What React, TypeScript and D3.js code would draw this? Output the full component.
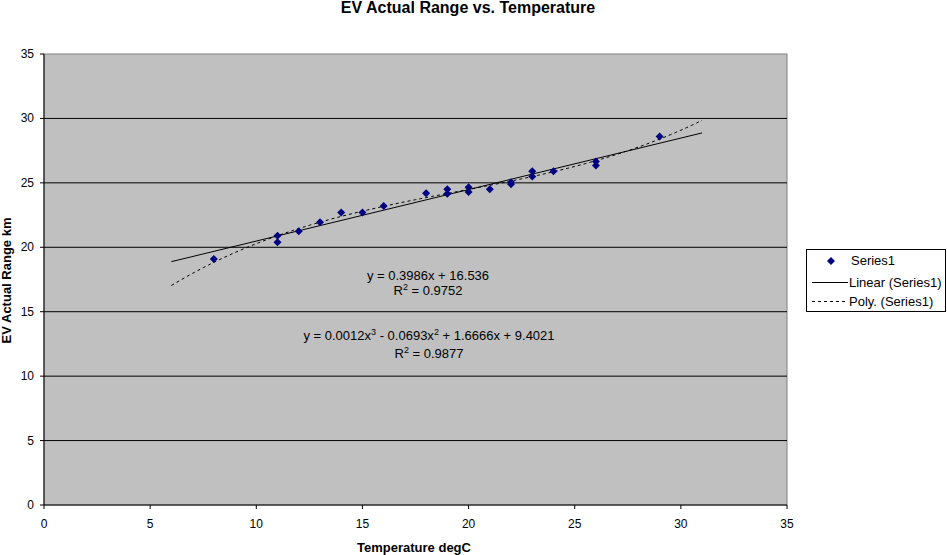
import * as d3 from "d3";
import React from "react";

const temps = [8, 11, 11, 12, 13, 14, 15, 16, 18, 19, 19, 20, 20, 21, 22, 22, 23, 23, 24, 26, 26, 29];
const ranges = [19.1, 20.9, 20.4, 21.25, 21.95, 22.7, 22.7, 23.2, 24.2, 24.5, 24.15, 24.65, 24.3, 24.5, 25.05, 24.9, 25.9, 25.5, 25.9, 26.65, 26.35, 28.6];

// trendline labels as printed on the chart
const linearLabel = "y = 0.3986x + 16.536";
const linearR2 = "0.9752";
const polyR2 = "0.9877";
const trendDomain = [6, 31];

const xTicks = [0, 5, 10, 15, 20, 25, 30, 35];
const yTicks = [0, 5, 10, 15, 20, 25, 30, 35];

const W = 947;
const H = 555;
const plot = { left: 44, top: 54, right: 787, bottom: 505 };
const font = "'Liberation Sans', Arial, sans-serif";

// least squares polynomial fit (normal equations + gaussian elimination)
function polyFit(xs: number[], ys: number[], order: number) {
  const n = order + 1;
  const A = Array.from({ length: n }, () => new Array(n + 1).fill(0));
  for (let r = 0; r < n; r++) {
    for (let c = 0; c < n; c++) A[r][c] = d3.sum(xs, (x) => Math.pow(x, r + c));
    A[r][n] = d3.sum(xs, (x, i) => ys[i] * Math.pow(x, r));
  }
  for (let i = 0; i < n; i++) {
    let p = i;
    for (let k = i + 1; k < n; k++) if (Math.abs(A[k][i]) > Math.abs(A[p][i])) p = k;
    [A[i], A[p]] = [A[p], A[i]];
    for (let k = i + 1; k < n; k++) {
      const f = A[k][i] / A[i][i];
      for (let c = i; c <= n; c++) A[k][c] -= f * A[i][c];
    }
  }
  const coef = new Array(n).fill(0);
  for (let i = n - 1; i >= 0; i--) {
    let s = A[i][n];
    for (let c = i + 1; c < n; c++) s -= A[i][c] * coef[c];
    coef[i] = s / A[i][i];
  }
  return coef;
}

const evalPoly = (c: number[], x: number) => c.reduce((s, k, i) => s + k * Math.pow(x, i), 0);

const diamond = "M0,-4L4,0L0,4L-4,0Z";

export default function App() {
  const x = d3.scaleLinear().domain([0, 35]).range([plot.left, plot.right]);
  const y = d3.scaleLinear().domain([0, 35]).range([plot.bottom, plot.top]);

  const linCoef = polyFit(temps, ranges, 1);
  const cubicCoef = polyFit(temps, ranges, 3);

  const xs = d3.range(trendDomain[0], trendDomain[1] + 0.001, 0.25);
  const linPath = d3
    .line<number>()
    .x((d) => x(d))
    .y((d) => y(evalPoly(linCoef, d)))(trendDomain);
  const polyPath = d3
    .line<number>()
    .x((d) => x(d))
    .y((d) => y(evalPoly(cubicCoef, d)))(xs);

  return (
    <svg
      width={W}
      height={H}
      style={{ position: "absolute", left: 0, top: 0, background: "#fff" }}
      fontFamily={font}
    >
      <text x={468} y={13} textAnchor="middle" fontSize={16} fontWeight="bold">
        EV Actual Range vs. Temperature
      </text>

      <rect
        x={plot.left}
        y={plot.top}
        width={plot.right - plot.left}
        height={plot.bottom - plot.top}
        fill="#c0c0c0"
        stroke="#808080"
      />

      {/* gridlines */}
      {yTicks.slice(1, -1).map((t) => (
        <line key={t} x1={plot.left} x2={plot.right} y1={y(t)} y2={y(t)} stroke="#000" />
      ))}

      {/* axes */}
      <line x1={plot.left} x2={plot.left} y1={plot.top} y2={plot.bottom} stroke="#000" />
      <line x1={plot.left} x2={plot.right} y1={plot.bottom} y2={plot.bottom} stroke="#000" />
      {yTicks.map((t) => (
        <g key={"y" + t}>
          <line x1={plot.left - 4} x2={plot.left} y1={y(t)} y2={y(t)} stroke="#000" />
          <text x={34} y={y(t) + 4} textAnchor="end" fontSize={12}>
            {t}
          </text>
        </g>
      ))}
      {xTicks.map((t) => (
        <g key={"x" + t}>
          <line x1={x(t)} x2={x(t)} y1={plot.bottom} y2={plot.bottom + 4} stroke="#000" />
          <text x={x(t)} y={528} textAnchor="middle" fontSize={12}>
            {t}
          </text>
        </g>
      ))}

      <text x={414} y={552} textAnchor="middle" fontSize={13} fontWeight="bold">
        Temperature degC
      </text>
      <text
        transform={`translate(11,${(plot.top + plot.bottom) / 2 + 1}) rotate(-90)`}
        textAnchor="middle"
        fontSize={13}
        fontWeight="bold"
      >
        EV Actual Range km
      </text>

      {/* trendlines */}
      <path d={linPath ?? ""} fill="none" stroke="#000" strokeWidth={1} />
      <path d={polyPath ?? ""} fill="none" stroke="#000" strokeWidth={1} strokeDasharray="3,3" />

      {/* points */}
      {temps.map((t, i) => (
        <path key={i} d={diamond} transform={`translate(${x(t)},${y(ranges[i])})`} fill="#000080" />
      ))}

      {/* equations */}
      <g fontSize={13} textAnchor="middle">
        <text x={428} y={280}>{linearLabel}</text>
        <text x={428} y={295}>
          R<tspan dy={-5} fontSize={9}>2</tspan>
          <tspan dy={5}> = {linearR2}</tspan>
        </text>
        <text x={429} y={340}>
          y = 0.0012x<tspan dy={-5} fontSize={9}>3</tspan>
          <tspan dy={5}> - 0.0693x</tspan>
          <tspan dy={-5} fontSize={9}>2</tspan>
          <tspan dy={5}> + 1.6666x + 9.4021</tspan>
        </text>
        <text x={429} y={358}>
          R<tspan dy={-5} fontSize={9}>2</tspan>
          <tspan dy={5}> = {polyR2}</tspan>
        </text>
      </g>

      {/* legend */}
      <rect x={806.5} y={249.5} width={139} height={62} fill="#fff" stroke="#000" />
      <path d={diamond} transform="translate(831,261)" fill="#000080" />
      <text x={851} y={265} fontSize={13}>Series1</text>
      <line x1={812} x2={848} y1={282.5} y2={282.5} stroke="#000" />
      <text x={849} y={287} fontSize={13}>Linear (Series1)</text>
      <line x1={812} x2={848} y1={301.5} y2={301.5} stroke="#000" strokeDasharray="3,3" />
      <text x={849} y={306} fontSize={13}>Poly. (Series1)</text>
    </svg>
  );
}
